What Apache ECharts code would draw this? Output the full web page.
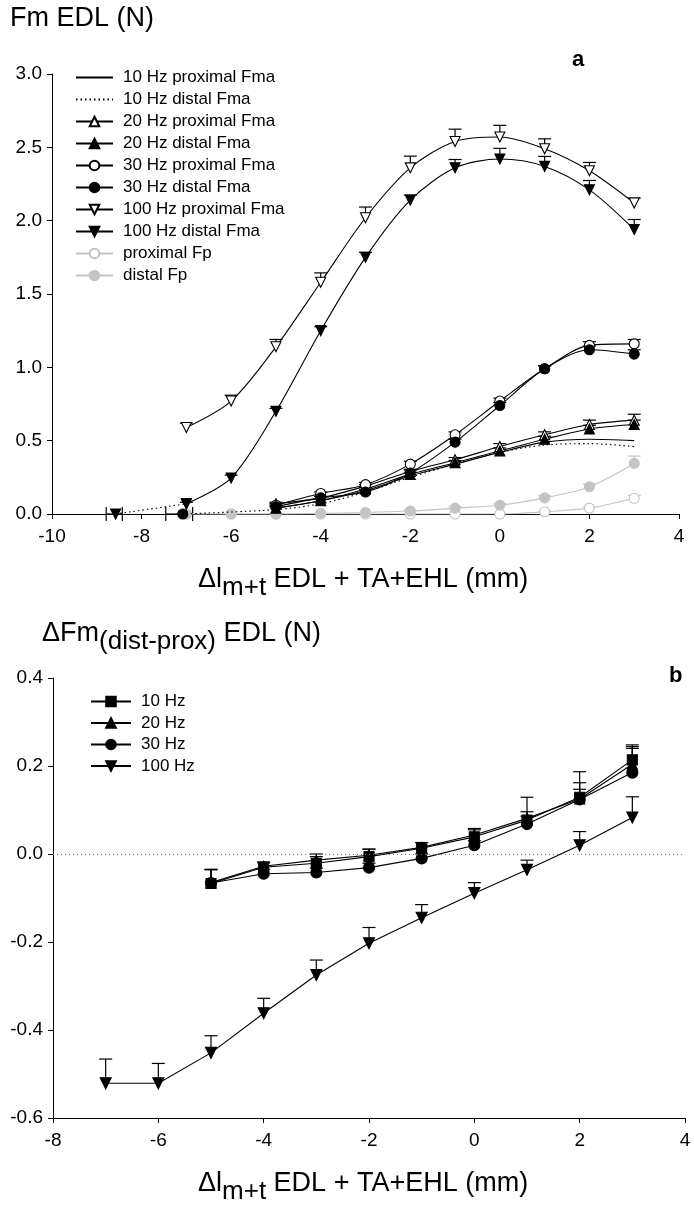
<!DOCTYPE html>
<html><head><meta charset="utf-8">
<script src="https://cdn.jsdelivr.net/npm/echarts@6/dist/echarts.min.js"></script>
<style>html,body{margin:0;padding:0;background:#fff}#c{width:694px;height:1207px}</style>
</head><body><div id="c"></div>
<script>
// ---------- Panel a data ----------
const xTicksA = [-10, -8, -6, -4, -2, 0, 2, 4];
const xFrom5 = [-5, -4, -3, -2, -1, 0, 1, 2, 3];
const xFrom7 = [-7, -6, -5, -4, -3, -2, -1, 0, 1, 2, 3];
const xDist10 = [-7.1, -5, -4, -3, -2, -1, 0, 1, 2, 3];
const prox10 = [0.04, 0.09, 0.16, 0.26, 0.34, 0.42, 0.49, 0.51, 0.50];
const dist10 = [0, 0.03, 0.07, 0.15, 0.25, 0.34, 0.42, 0.47, 0.48, 0.46];
const prox20 = [0.07, 0.11, 0.19, 0.29, 0.37, 0.46, 0.54, 0.61, 0.64];
const prox20Err = [0.01, 0.01, 0.01, 0.015, 0.015, 0.02, 0.02, 0.03, 0.04];
const dist20 = [0.04, 0.09, 0.17, 0.27, 0.35, 0.43, 0.51, 0.58, 0.61];
const dist20Err = [0.01, 0.01, 0.01, 0.015, 0.015, 0.02, 0.02, 0.025, 0.03];
const prox30 = [0.06, 0.14, 0.20, 0.34, 0.54, 0.77, 0.99, 1.15, 1.16];
const prox30Err = [0.01, 0.01, 0.015, 0.02, 0.02, 0.02, 0.02, 0.025, 0.03];
const dist30 = [0.05, 0.11, 0.15, 0.28, 0.49, 0.74, 0.99, 1.12, 1.09];
const dist30Err = [0.01, 0.01, 0.015, 0.02, 0.02, 0.02, 0.02, 0.025, 0.03];
const prox100 = [0.59, 0.77, 1.14, 1.58, 2.02, 2.36, 2.54, 2.57, 2.49, 2.34, 2.12];
const prox100Err = [0.03, 0.04, 0.05, 0.064, 0.073, 0.08, 0.084, 0.08, 0.068, 0.057, 0.034];
const dist100 = [0.07, 0.245, 0.70, 1.25, 1.75, 2.14, 2.36, 2.42, 2.37, 2.21, 1.94];
const dist100Err = [0.01, 0.02, 0.02, 0.027, 0.034, 0.034, 0.057, 0.073, 0.068, 0.064, 0.068];
const xDist100Start = [-8.58, -7];
const dist100Start = [0, 0.07];
const xDist30Start = [-7.08];
const dist30Start = [0];
// horizontal (length) error bars: [x, y, xLow, xHigh]
const lengthErrBars = [[-8.58, 0, -8.79, -8.43], [-7.08, 0, -7.46, -6.86]];
const proxFp = [0, 0, 0, 0, 0, 0, 0, 0, 0.015, 0.04, 0.107];
const proxFpErr = [0, 0, 0, 0, 0, 0, 0, 0, 0.005, 0.01, 0.02];
const distFp = [0, 0, 0, 0.005, 0.01, 0.02, 0.04, 0.06, 0.11, 0.186, 0.345];
const distFpErr = [0, 0, 0, 0, 0, 0.005, 0.01, 0.01, 0.015, 0.02, 0.05];

// ---------- Panel b data ----------
const xB = [-5, -4, -3, -2, -1, 0, 1, 2, 3];
const d10 = [-0.067, -0.03, -0.021, -0.006, 0.013, 0.039, 0.077, 0.129, 0.214];
const d10Err = [0.032, 0.01, 0.015, 0.017, 0.013, 0.019, 0.052, 0.058, 0.034];
const d20 = [-0.065, -0.028, -0.014, -0.003, 0.015, 0.043, 0.081, 0.125, 0.204];
const d20Err = [0.03, 0.01, 0.014, 0.014, 0.011, 0.012, 0.015, 0.037, 0.04];
const d30 = [-0.066, -0.045, -0.042, -0.031, -0.010, 0.020, 0.068, 0.124, 0.185];
const d30Err = [0.03, 0.01, 0.01, 0.01, 0.01, 0.01, 0.018, 0.023, 0.055];
const xB100 = [-7, -6, -5, -4, -3, -2, -1, 0, 1, 2, 3];
const d100 = [-0.521, -0.521, -0.452, -0.362, -0.275, -0.203, -0.145, -0.089, -0.036, 0.020, 0.083];
const d100Err = [0.055, 0.045, 0.039, 0.034, 0.034, 0.036, 0.03, 0.024, 0.022, 0.031, 0.047];

const FONT = "'Liberation Sans', Arial, sans-serif";
const GREY = '#c4c4c4';

function pairs(xs, ys) { return xs.map((x, i) => [x, ys[i]]); }
function triples(xs, ys, es) { return xs.map((x, i) => [x, ys[i], es[i]]); }

function errSeries(xs, ys, es, idx, color) {
  return {
    type: 'custom', xAxisIndex: idx, yAxisIndex: idx, z: 1, silent: true,
    data: triples(xs, ys, es),
    renderItem: function (params, api) {
      const x = api.value(0), y = api.value(1), e = api.value(2);
      if (!e) return null;
      const a = api.coord([x, y]), b = api.coord([x, y + e]);
      const w = 6.5;
      return { type: 'group', children: [
        { type: 'line', shape: { x1: a[0], y1: a[1], x2: b[0], y2: b[1] }, style: { stroke: color, lineWidth: 1.2 } },
        { type: 'line', shape: { x1: b[0] - w, y1: b[1], x2: b[0] + w, y2: b[1] }, style: { stroke: color, lineWidth: 1.2 } }
      ] };
    }
  };
}

function lineSeries(name, xs, ys, idx, o) {
  o = o || {};
  return Object.assign({
    name: name, type: 'line', xAxisIndex: idx, yAxisIndex: idx, z: 3,
    data: pairs(xs, ys),
    smooth: idx === 0 ? 0.3 : false,
    symbolSize: 10,
    lineStyle: { color: o.lineColor || '#000', width: 1.1, type: o.dash || 'solid' },
    itemStyle: { color: o.fill || '#000', borderColor: o.border || '#000', borderWidth: 1.1 },
    emphasis: { disabled: true }
  }, o.extra || {});
}

const series = [
  // panel a
  lineSeries('10 Hz proximal Fma', xFrom5, prox10, 0, { extra: { symbol: 'none' } }),
  lineSeries('10 Hz distal Fma', xDist10, dist10, 0, { dash: [1.5, 3], extra: { symbol: 'none' } }),
  lineSeries('20 Hz proximal Fma', xFrom5, prox20, 0, { fill: '#fff', extra: { symbol: 'triangle' } }),
  lineSeries('20 Hz distal Fma', xFrom5, dist20, 0, { extra: { symbol: 'triangle' } }),
  lineSeries('30 Hz proximal Fma', xFrom5, prox30, 0, { fill: '#fff', extra: { symbol: 'circle' } }),
  lineSeries('30 Hz distal Fma', xFrom5, dist30, 0, { extra: { symbol: 'circle' } }),
  lineSeries('100 Hz proximal Fma', xFrom7, prox100, 0, { fill: '#fff', extra: { symbol: 'triangle', symbolRotate: 180 } }),
  lineSeries('100 Hz distal Fma', xFrom7, dist100, 0, { extra: { symbol: 'triangle', symbolRotate: 180 } }),
  lineSeries('proximal Fp', xFrom7, proxFp, 0, { fill: '#fff', border: GREY, lineColor: GREY, extra: { symbol: 'circle', z: 2 } }),
  lineSeries('distal Fp', xFrom7, distFp, 0, { fill: GREY, border: GREY, lineColor: GREY, extra: { symbol: 'circle', z: 2 } }),
  lineSeries('start100', xDist100Start, dist100Start, 0, { dash: [1.5, 3], extra: { symbol: 'triangle', symbolRotate: 180, smooth: false } }),
  lineSeries('start30', xDist30Start, dist30Start, 0, { extra: { symbol: 'circle' } }),
  {
    type: 'custom', xAxisIndex: 0, yAxisIndex: 0, z: 1, silent: true, data: lengthErrBars,
    renderItem: function (params, api) {
      const y = api.value(1);
      const lo = api.coord([api.value(2), y]), hi = api.coord([api.value(3), y]);
      const h = 7;
      return { type: 'group', children: [
        { type: 'line', shape: { x1: lo[0], y1: lo[1], x2: hi[0], y2: hi[1] }, style: { stroke: '#000', lineWidth: 1.2 } },
        { type: 'line', shape: { x1: lo[0], y1: lo[1] - h, x2: lo[0], y2: lo[1] + h }, style: { stroke: '#000', lineWidth: 1.2 } },
        { type: 'line', shape: { x1: hi[0], y1: hi[1] - h, x2: hi[0], y2: hi[1] + h }, style: { stroke: '#000', lineWidth: 1.2 } }
      ] };
    }
  },
  errSeries(xFrom5, prox20, prox20Err, 0, '#000'),
  errSeries(xFrom5, dist20, dist20Err, 0, '#000'),
  errSeries(xFrom5, prox30, prox30Err, 0, '#000'),
  errSeries(xFrom5, dist30, dist30Err, 0, '#000'),
  errSeries(xFrom7, prox100, prox100Err, 0, '#000'),
  errSeries(xFrom7, dist100, dist100Err, 0, '#000'),
  errSeries(xFrom7, proxFp, proxFpErr, 0, GREY),
  errSeries(xFrom7, distFp, distFpErr, 0, GREY),
  // panel b
  lineSeries('10 Hz', xB, d10, 1, { extra: { symbol: 'rect', symbolSize: 10,
    markLine: { silent: true, symbol: 'none', label: { show: false }, lineStyle: { color: '#777', type: [1, 3], width: 1 }, data: [{ yAxis: 0 }] } } }),
  lineSeries('20 Hz', xB, d20, 1, { extra: { symbol: 'triangle', symbolSize: 10 } }),
  lineSeries('30 Hz', xB, d30, 1, { extra: { symbol: 'circle', symbolSize: 11 } }),
  lineSeries('100 Hz', xB100, d100, 1, { extra: { symbol: 'triangle', symbolRotate: 180, symbolSize: 11 } }),
  errSeries(xB, d10, d10Err, 1, '#000'),
  errSeries(xB, d20, d20Err, 1, '#000'),
  errSeries(xB, d30, d30Err, 1, '#000'),
  errSeries(xB100, d100, d100Err, 1, '#000')
];

const axisCommon = {
  axisLine: { onZero: false, lineStyle: { color: '#000', width: 1 } },
  axisTick: { show: true, inside: false, length: 5, lineStyle: { color: '#000' } },
  splitLine: { show: false },
  axisLabel: { color: '#000', fontFamily: FONT, fontSize: 19 }
};

const richTitle = {
  m: { fontSize: 27, fontFamily: FONT, color: '#000', lineHeight: 30, verticalAlign: 'top' },
  s: { fontSize: 26, fontFamily: FONT, color: '#000', lineHeight: 30, verticalAlign: 'top', padding: [9, 0, 0, 0] }
};

const legendText = { fontFamily: FONT, fontSize: 17, color: '#000', padding: [0, 0, 0, 5], lineHeight: 14 };
const noMarker = { itemStyle: { opacity: 0 } };

const option = {
  animation: false,
  backgroundColor: '#fff',
  grid: [
    { left: 52, top: 74, width: 627, height: 440 },
    { left: 53, top: 678, width: 632, height: 440 }
  ],
  xAxis: [
    Object.assign({}, axisCommon, { gridIndex: 0, type: 'value', min: -10, max: 4, interval: 2,
      axisLabel: Object.assign({}, axisCommon.axisLabel, { margin: 13 }) }),
    Object.assign({}, axisCommon, { gridIndex: 1, type: 'value', min: -8, max: 4, interval: 2,
      axisLabel: Object.assign({}, axisCommon.axisLabel, { margin: 13 }) })
  ],
  yAxis: [
    Object.assign({}, axisCommon, { gridIndex: 0, type: 'value', min: 0, max: 3, interval: 0.5,
      axisLabel: Object.assign({}, axisCommon.axisLabel, { margin: 10, formatter: v => v.toFixed(1) }) }),
    Object.assign({}, axisCommon, { gridIndex: 1, type: 'value', min: -0.6, max: 0.4, interval: 0.2,
      axisLabel: Object.assign({}, axisCommon.axisLabel, { margin: 10, formatter: v => (Math.abs(v) < 1e-9 ? 0 : v).toFixed(1) }) })
  ],
  legend: [
    { orient: 'vertical', left: 70, top: 64, itemWidth: 37, itemHeight: 12, itemGap: 5,
      selectedMode: false, textStyle: legendText,
      data: [Object.assign({ name: '10 Hz proximal Fma' }, noMarker), Object.assign({ name: '10 Hz distal Fma' }, noMarker),
        '20 Hz proximal Fma', '20 Hz distal Fma', '30 Hz proximal Fma', '30 Hz distal Fma', '100 Hz proximal Fma', '100 Hz distal Fma', 'proximal Fp', 'distal Fp'] },
    { orient: 'vertical', left: 85, top: 688, itemWidth: 40, itemHeight: 12, itemGap: 4.5,
      selectedMode: false, textStyle: legendText,
      data: ['10 Hz', '20 Hz', '30 Hz', '100 Hz'] }
  ],
  graphic: [
    { type: 'text', left: 10, top: 5, style: { text: 'Fm EDL (N)', font: '27px ' + FONT, fill: '#000' } },
    { type: 'text', left: 572, top: 49, style: { text: 'a', font: 'bold 22px ' + FONT, fill: '#000' } },
    { type: 'text', left: 198, top: 566, style: { text: '{m|Δl}{s|m+t}{m| EDL + TA+EHL (mm)}', rich: richTitle } },
    { type: 'text', left: 42, top: 620, style: { text: '{m|ΔFm}{s|(dist-prox)}{m| EDL (N)}', rich: richTitle } },
    { type: 'text', left: 669, top: 665, style: { text: 'b', font: 'bold 22px ' + FONT, fill: '#000' } },
    { type: 'text', left: 198, top: 1170, style: { text: '{m|Δl}{s|m+t}{m| EDL + TA+EHL (mm)}', rich: richTitle } }
  ],
  series: series
};

const chart = echarts.init(document.getElementById('c'), null, { renderer: 'canvas' });
chart.setOption(option);
</script>
</body></html>
